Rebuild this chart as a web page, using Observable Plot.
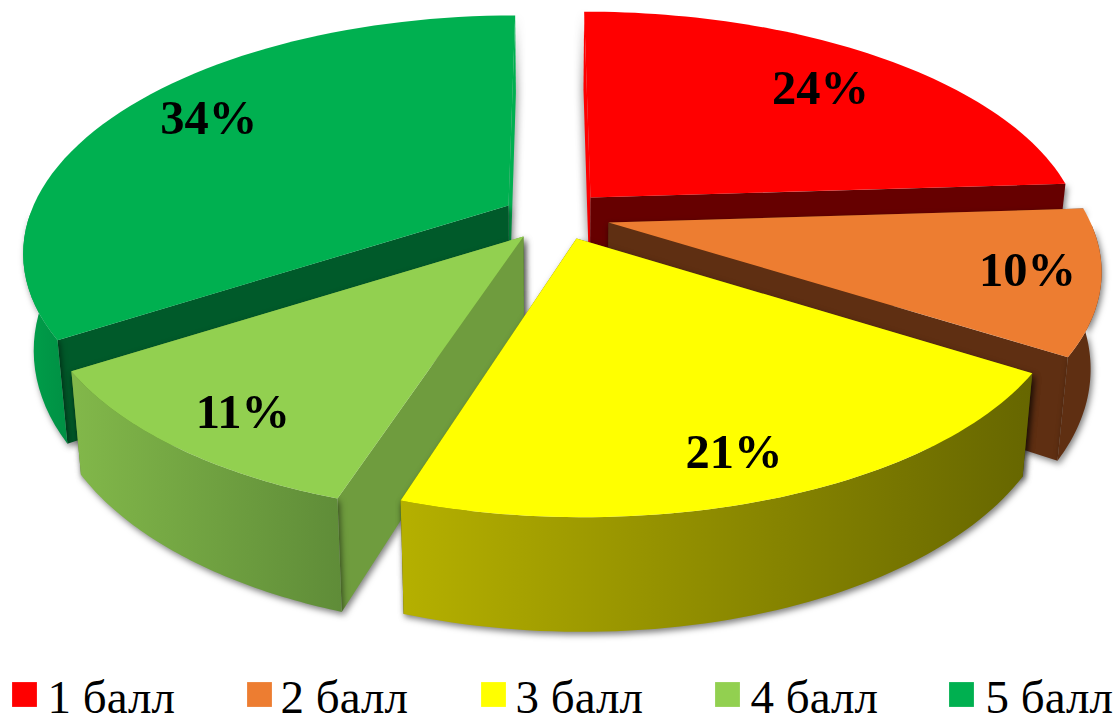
<!DOCTYPE html>
<html><head><meta charset="utf-8">
<script src="https://cdn.jsdelivr.net/npm/d3@7"></script>
<script src="https://cdn.jsdelivr.net/npm/@observablehq/plot@0.6"></script>
<style>html,body{margin:0;padding:0;background:#fff}svg{display:block}</style>
</head><body><div id="chart"></div>
<script>
const categories = ["1 балл","2 балл","3 балл","4 балл","5 балл"];
const shares = [24,10,21,11,34];
const topColors = ["#ff0000","#ed7d31","#ffff00","#92d050","#00b050"];
const faceColors = ["#660000","#5f2f12","#666600","#6f9c3e","#005a2a"];
const wallFrom = ["#a00000","#5f2f12","#b5b000","#82b84a","#00a04a"];
const wallTo = ["#660000","#5f2f12","#666600","#5f8c38","#009044"];
// exploded-slice apex positions and radii; label radial positions
const apexX = [590,608,576,523,508];
const apexY = [197,222,238,236,205];
const radiusX = [482,482,482,478,475];
const radiusY = [221,226,226,226,226];
const labelRadius = [.765,.856,.847,.846,.803];
const labelTurnDeg = [1.2,-.6,1.3,-1.2,2.3];
const drawOrder = [0,4,1,3,2];
const legendX = [24,259,493,727,961];
const legendTextX = [47,280,515,750,985];

const cx = 550, k = .189, depth = 93, taper = .02;
const TAU = Math.PI*2;
function project(i, angle, r, z){
  const u = Math.sin(angle)*r, v = -Math.cos(angle)*r;
  const s = 1/(1-k*v);
  return {x: cx + (apexX[i]-cx + radiusX[i]*u)*s*(1-taper*z), y: apexY[i] + (radiusY[i]*v + depth*z)*s};
}
let acc = 0;
const slices = shares.map((p,i)=>{
  const a0 = acc/100*TAU; acc += p; const a1 = acc/100*TAU;
  const angles = d3.range(0,61).map(j=>a0+(a1-a0)*j/60);
  return {i,a0,a1,angles};
});
const marks = [];
marks.push(() => {
  const ns = "http://www.w3.org/2000/svg";
  const defs = document.createElementNS(ns,"defs");
  topColors.forEach((_,i)=>{
    const g = document.createElementNS(ns,"linearGradient");
    g.setAttribute("id","wall"+i);
    [[0,wallFrom[i]],[1,wallTo[i]]].forEach(([o,c])=>{
      const st = document.createElementNS(ns,"stop");
      st.setAttribute("offset",o); st.setAttribute("stop-color",c);
      g.appendChild(st);
    });
    defs.appendChild(g);
  });
  return defs;
});
const poly = (pts,fill,extra={}) => Plot.line(pts,{x:"x",y:"y",fill,stroke:"none",curve:"linear",...extra});
const shadow = {imageFilter:"drop-shadow(2px 3px 3px rgba(0,0,0,.5))"};
const glow = {imageFilter:"drop-shadow(0 0 4px rgba(0,0,0,.85))"};
for (const idx of drawOrder){
  const {i,a0,a1,angles} = slices[idx];
  const face = a => [project(i,a,0,0),project(i,a,1,0),project(i,a,1,1),project(i,a,0,1)];
  const leftSide = (a0+a1)/2 > Math.PI;
  const order = leftSide ? [a1,a0] : [a0,a1];
  order.forEach(a=>{
    const atGap = Math.abs(Math.cos(a)) > .999;
    marks.push(poly(face(a),atGap ? topColors[i] : faceColors[i],atGap ? glow : shadow));
  });
  const front = angles.filter(a=>Math.cos(a)<0);
  if (front.length){
    const wall = [...front.map(a=>project(i,a,1,0)), ...front.slice().reverse().map(a=>project(i,a,1,1))];
    marks.push(poly(wall,`url(#wall${i})`,shadow));
  }
  marks.push(poly([project(i,a0,0,0),...angles.map(a=>project(i,a,1,0))],topColors[i]));
}
const labels = slices.map(({i,a0,a1})=>({...project(i,(a0+a1)/2+labelTurnDeg[i]*Math.PI/180,labelRadius[i],0),t:shares[i]+"%"}));
marks.push(Plot.text(labels,{x:"x",y:"y",text:"t",fontFamily:"Liberation Serif",fontWeight:"bold",fontSize:48.5,fill:"#000"}));
const legend = categories.map((c,i)=>({c,i}));
marks.push(Plot.dot(legend,{x:d=>legendX[d.i],y:()=>694,symbol:"square",r:14,fill:d=>topColors[d.i],stroke:"none"}));
marks.push(Plot.text(legend,{x:d=>legendTextX[d.i],y:()=>697,text:"c",textAnchor:"start",fontFamily:"Liberation Serif",fontSize:47,fill:"#000"}));
const chart = Plot.plot({
  width:1120,height:715,margin:0,
  x:{domain:[0,1120],range:[0,1120],axis:null},
  y:{domain:[0,715],range:[0,715],axis:null},
  color:{type:"identity"},
  symbol:{type:"identity"},
  style:{background:"#fff"},
  marks
});
document.getElementById("chart").appendChild(chart);
</script></body></html>
